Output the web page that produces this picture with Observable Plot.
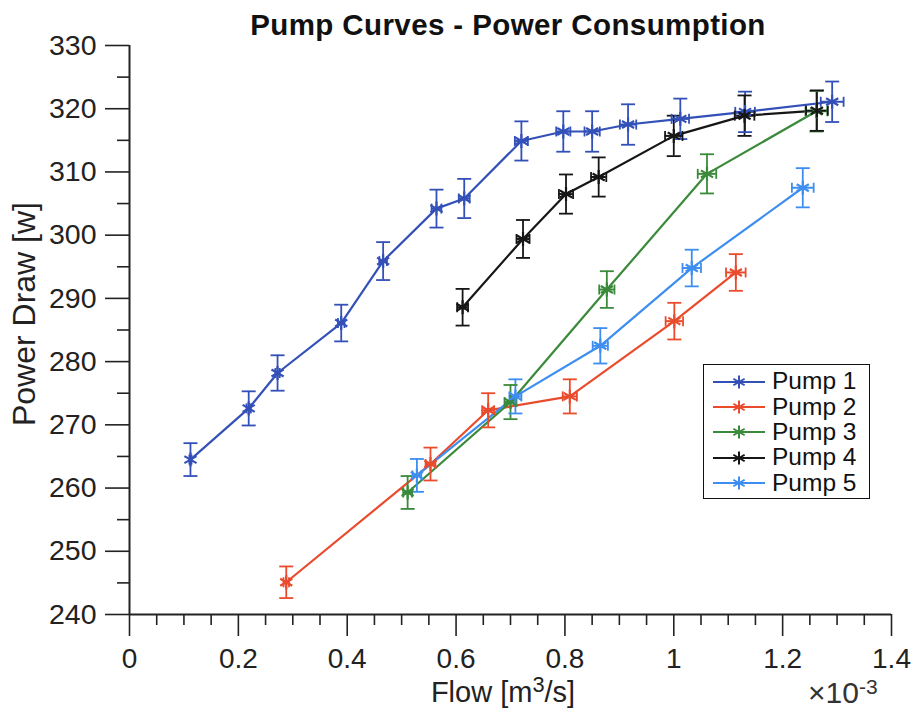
<!DOCTYPE html>
<html>
<head>
<meta charset="utf-8">
<script src="https://cdn.jsdelivr.net/npm/d3@7"></script>
<script src="https://cdn.jsdelivr.net/npm/@observablehq/plot@0.6"></script>
<style>
  body { margin: 0; background: #fff; font-family: "Liberation Sans", Arial, Helvetica, sans-serif; }
  #wrap { position: relative; width: 914px; height: 717px; overflow: hidden; }
  .ov { position: absolute; line-height: 1; white-space: nowrap; color: #222; }
  #title { left: 0; width: 1016px; top: 10px; text-align: center; font-weight: bold; font-size: 29.5px; color: #111; letter-spacing: 0.4px; }
  #xlabel { left: 303px; width: 400px; top: 678px; text-align: center; font-size: 29px; }
  #ylabel { left: -126px; width: 300px; top: 298px; text-align: center; font-size: 32px; transform: rotate(-90deg); }
  #xexp { left: 808px; top: 678px; font-size: 30px; color: #333; }
  sup.s { font-size: 0.75em; position: relative; top: -0.2em; vertical-align: top; }
  sup.e { font-size: 0.7em; position: relative; top: -0.08em; vertical-align: top; }
  #legend { position: absolute; left: 703px; top: 364px; width: 167px; height: 135px; border: 1.6px solid #111; background: #fff; box-sizing: border-box; }
  .row { position: absolute; left: 8px; height: 25px; display: flex; align-items: center; }
  .row span { font-size: 24.5px; color: #111; margin-left: 6px; line-height: 1; }
</style>
</head>
<body>
<div id="wrap"></div>
<script>
// ---- data (flow in 10^-3 m^3/s, power in W) ----
const pumps = ["Pump 1", "Pump 2", "Pump 3", "Pump 4", "Pump 5"];
const colors = ["#3350b8", "#e94b2c", "#3b8a3b", "#161616", "#3d8ef0"];

const p1Flow  = [0.112, 0.219, 0.272, 0.389, 0.466, 0.564, 0.615, 0.720, 0.797, 0.850, 0.916, 1.012, 1.131, 1.291];
const p1Power = [264.5, 272.6, 278.2, 286.1, 295.9, 304.2, 305.8, 314.9, 316.4, 316.4, 317.5, 318.4, 319.5, 321.1];
const p1PErr  = [2.6, 2.7, 2.8, 2.9, 3.0, 3.0, 3.1, 3.1, 3.2, 3.2, 3.2, 3.2, 3.2, 3.2];
const p1FErr  = [0.002, 0.004, 0.004, 0.006, 0.007, 0.009, 0.010, 0.012, 0.013, 0.014, 0.015, 0.016, 0.018, 0.021];

const p2Flow  = [0.288, 0.553, 0.659, 0.809, 1.001, 1.114];
const p2Power = [245.1, 263.8, 272.3, 274.5, 286.4, 294.1];
const p2PErr  = [2.5, 2.6, 2.7, 2.7, 2.9, 2.9];
const p2FErr  = [0.005, 0.009, 0.011, 0.013, 0.016, 0.018];

const p3Flow  = [0.511, 0.700, 0.877, 1.061, 1.262];
const p3Power = [259.3, 273.6, 291.4, 309.7, 319.6];
const p3PErr  = [2.6, 2.7, 2.9, 3.1, 3.2];
const p3FErr  = [0.008, 0.011, 0.014, 0.017, 0.020];

const p4Flow  = [0.612, 0.723, 0.802, 0.862, 1.000, 1.130, 1.263];
const p4Power = [288.6, 299.4, 306.5, 309.2, 315.7, 318.9, 319.7];
const p4PErr  = [2.9, 3.0, 3.1, 3.1, 3.2, 3.2, 3.2];
const p4FErr  = [0.010, 0.012, 0.013, 0.014, 0.016, 0.018, 0.020];

const p5Flow  = [0.528, 0.709, 0.865, 1.033, 1.237];
const p5Power = [262.0, 274.5, 282.5, 294.8, 307.5];
const p5PErr  = [2.6, 2.7, 2.8, 2.9, 3.1];
const p5FErr  = [0.008, 0.011, 0.014, 0.017, 0.020];

const xTicks = [0, 0.2, 0.4, 0.6, 0.8, 1.0, 1.2, 1.4];
const xMinorTicks = [0.05, 0.1, 0.15, 0.25, 0.3, 0.35, 0.45, 0.5, 0.55, 0.65, 0.7, 0.75, 0.85, 0.9, 0.95, 1.05, 1.1, 1.15, 1.25, 1.3, 1.35];
const yTicks = [240, 250, 260, 270, 280, 290, 300, 310, 320, 330];
const yMinorTicks = [245, 255, 265, 275, 285, 295, 305, 315, 325];

// ---- build table ----
const series = [
  [p1Flow, p1Power, p1PErr, p1FErr],
  [p2Flow, p2Power, p2PErr, p2FErr],
  [p3Flow, p3Power, p3PErr, p3FErr],
  [p4Flow, p4Power, p4PErr, p4FErr],
  [p5Flow, p5Power, p5PErr, p5FErr]
];
const data = [];
series.forEach(([f, p, pe, fe], i) => {
  f.forEach((x, j) => data.push({pump: pumps[i], flow: x, power: p[j], perr: pe[j], ferr: fe[j]}));
});

// custom symbols (size -> radius)
const rad = size => Math.sqrt(size / Math.PI);
const hCap = { draw(ctx, size) { const r = rad(size); ctx.moveTo(-r, 0); ctx.lineTo(r, 0); } };
const vCap = { draw(ctx, size) { const r = rad(size); ctx.moveTo(0, -r); ctx.lineTo(0, r); } };
const star = { draw(ctx, size) {
  const r = rad(size);
  for (const a of [90, 30, 150]) {
    const t = a * Math.PI / 180, dx = r * Math.cos(t), dy = r * Math.sin(t);
    ctx.moveTo(-dx, -dy); ctx.lineTo(dx, dy);
  }
} };

const axisColor = "#222";
const fmt = d => String(+d.toFixed(1));

const chart = Plot.plot({
  width: 914,
  height: 717,
  marginTop: 45,
  marginBottom: 103,
  marginLeft: 129,
  marginRight: 23,
  style: { fontFamily: "'Liberation Sans', Arial, sans-serif", background: "#fff", color: axisColor },
  x: { domain: [0, 1.4] },
  y: { domain: [240, 330] },
  color: { domain: pumps, range: colors },
  marks: [
    Plot.axisX({ ticks: xMinorTicks, tickSize: 11, tickFormat: () => "", label: null, strokeWidth: 1.6, color: axisColor }),
    Plot.axisX({ ticks: xTicks, tickSize: 22, tickPadding: 12, tickFormat: fmt, fontSize: 28, label: null, strokeWidth: 1.6, color: axisColor }),
    Plot.axisY({ ticks: yMinorTicks, tickSize: 12, tickFormat: () => "", label: null, strokeWidth: 1.6, color: axisColor }),
    Plot.axisY({ ticks: yTicks, tickSize: 24, tickPadding: 9, tickFormat: d => String(d), fontSize: 28.5, label: null, strokeWidth: 1.6, color: axisColor }),
    Plot.ruleY([240], { stroke: axisColor, strokeWidth: 2 }),
    Plot.ruleX([0], { stroke: axisColor, strokeWidth: 2 }),
    // lines
    Plot.line(data, { x: "flow", y: "power", z: "pump", stroke: "pump", strokeWidth: 2.2 }),
    // vertical error bars
    Plot.ruleX(data, { x: "flow", y1: d => d.power - d.perr, y2: d => d.power + d.perr, stroke: "pump", strokeWidth: 1.8 }),
    Plot.dot(data, { x: "flow", y: d => d.power - d.perr, symbol: hCap, r: 7, stroke: "pump", strokeWidth: 1.8 }),
    Plot.dot(data, { x: "flow", y: d => d.power + d.perr, symbol: hCap, r: 7, stroke: "pump", strokeWidth: 1.8 }),
    // horizontal error bars
    Plot.ruleY(data, { y: "power", x1: d => d.flow - d.ferr, x2: d => d.flow + d.ferr, stroke: "pump", strokeWidth: 2 }),
    Plot.dot(data, { x: d => d.flow - d.ferr, y: "power", symbol: vCap, r: 5, stroke: "pump", strokeWidth: 1.8 }),
    Plot.dot(data, { x: d => d.flow + d.ferr, y: "power", symbol: vCap, r: 5, stroke: "pump", strokeWidth: 1.8 }),
    // markers
    Plot.dot(data, { x: "flow", y: "power", symbol: star, r: 7, stroke: "pump", strokeWidth: 2.2 })
  ]
});

const wrap = document.getElementById("wrap");
wrap.appendChild(chart);

function addDiv(id, html) {
  const d = document.createElement("div");
  d.id = id; d.className = "ov"; d.innerHTML = html;
  wrap.appendChild(d);
}
addDiv("title", "Pump Curves - Power Consumption");
addDiv("xlabel", 'Flow [m<sup class="s">3</sup>/s]');
addDiv("ylabel", "Power Draw [w]");
addDiv("xexp", '\u00d710<sup class="e">-3</sup>');

// legend
const legend = document.createElement("div");
legend.id = "legend";
const starPath = d3.symbol(star, Math.PI * 6.5 * 6.5)();
pumps.forEach((name, i) => {
  const row = document.createElement("div");
  row.className = "row";
  row.style.top = (4 + i * 25.4) + "px";
  row.innerHTML =
    `<svg width="54" height="24" style="overflow:visible"><line x1="1" x2="53" y1="12" y2="12" stroke="${colors[i]}" stroke-width="2"/>` +
    `<path d="${starPath}" transform="translate(27,12)" fill="none" stroke="${colors[i]}" stroke-width="2"/></svg><span>${name}</span>`;
  legend.appendChild(row);
});
wrap.appendChild(legend);
</script>
</body>
</html>
